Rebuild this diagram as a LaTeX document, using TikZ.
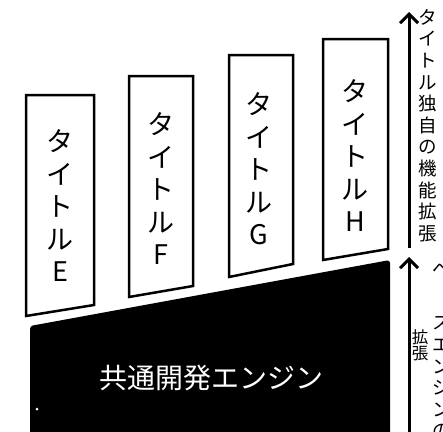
\documentclass[tikz,border=0pt]{standalone}
\usepackage{fontspec}
\newfontfamily\jp{Noto Sans CJK JP}
\usetikzlibrary{arrows.meta}
\tikzset{
  titlebox/.style={draw=black, line width=2.5, fill=white, line join=miter},
  boxtext/.style={font=\jp\fontsize{27}{32.5}\selectfont, align=center, inner sep=0},
  sidetext/.style={font=\jp\fontsize{18.5}{21.6}\selectfont, align=center, inner sep=0},
  smalltext/.style={font=\jp\fontsize{16.5}{16.5}\selectfont, align=center, inner sep=0},
  uparrow/.style={line width=3, -{Straight Barb[length=9pt,width=18pt,line width=3pt]}}
}
\begin{document}
\begin{tikzpicture}[x=1pt,y=-1pt]
\useasboundingbox (0,0) rectangle (443,431);
% title boxes
\draw[titlebox] (26,95) -- (94,95) -- (94,305) -- (26,316) -- cycle;
\draw[titlebox] (129,76) -- (193,76) -- (193,286) -- (129,297) -- cycle;
\draw[titlebox] (229,55) -- (293,55) -- (293,264) -- (229,277) -- cycle;
\draw[titlebox] (323,39) -- (388,39) -- (388,249) -- (323,260) -- cycle;
\node[boxtext] (e) at (60,206) {タ\\イ\\ト\\ル\\E};
\node[boxtext] (f) at (161,189) {タ\\イ\\ト\\ル\\F};
\node[boxtext] (g) at (259,169) {タ\\イ\\ト\\ル\\G};
\node[boxtext] (h) at (355,156) {タ\\イ\\ト\\ル\\H};
% engine
\fill[black, rounded corners=3] (30,326) -- (390,260) -- (390,445) -- (30,445) -- cycle;
\node[font=\jp\fontsize{28}{32}\selectfont, text=white, inner sep=0] (eng) at (211,378) {共通開発エンジン};
\fill[white] (37,409) circle (1.5);
% arrows
\coordinate (a1s) at (409,248);
\coordinate (a1e) at (409,12);
\coordinate (a2s) at (409,445);
\coordinate (a2e) at (409,257);
\draw[uparrow] (a1s) -- (a1e);
\draw[uparrow] (a2s) -- (a2e);
% side texts
\node[sidetext, anchor=north] (t1) at (428,9) {タ\\イ\\ト\\ル\\独\\自\\の\\機\\能\\拡\\張};
\node[sidetext, anchor=north] (t2) at (442,262) {ベ\\\rotatebox{-90}{ー}\\ス\\エ\\ン\\ジ\\ン\\の\\拡\\張};
\node[smalltext] (t3) at (420,345) {拡\\張};
\end{tikzpicture}
\end{document}
